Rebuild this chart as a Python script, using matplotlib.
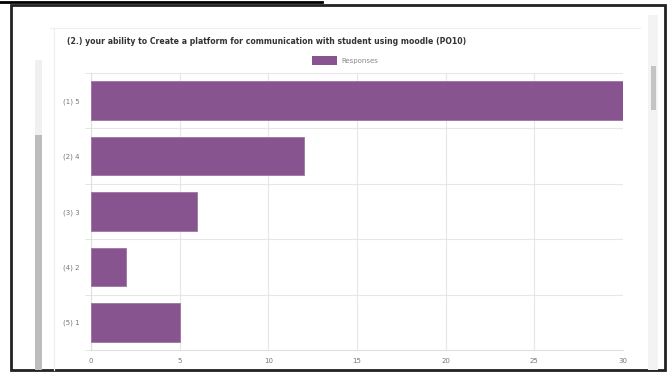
import matplotlib
matplotlib.use("Agg")
import matplotlib.pyplot as plt
from matplotlib.patches import Rectangle
from matplotlib.lines import Line2D

categories = ["(1) 5", "(2) 4", "(3) 3", "(4) 2", "(5) 1"]
responses = [30, 12, 6, 2, 5]
xticks = [0, 5, 10, 15, 20, 25, 30]
title = "(2.) your ability to Create a platform for communication with student using moodle (PO10)"
bar_color = "#87548f"

W, H = 667, 372
fig = plt.figure(figsize=(W / 100, H / 100), dpi=100)
fig.patch.set_facecolor("white")

def fx(x):
    return x / W

def fy(y):
    return 1 - y / H

# screenshot decorations
fig.add_artist(Line2D([fx(0), fx(322)], [fy(2), fy(2)], color="black", lw=2))
fig.add_artist(Rectangle((fx(11), fy(370)), fx(654), (365) / H, fill=False,
                         edgecolor="#222222", lw=2))
fig.add_artist(Rectangle((fx(35), fy(370)), fx(7), 235 / H, color="#bdbdbd", lw=0))
fig.add_artist(Rectangle((fx(35), fy(370)), fx(7), 310 / H, color="#f0f0f0", lw=0, zorder=-1))
fig.add_artist(Rectangle((fx(648), fy(370)), fx(10), 355 / H, color="#f3f3f3", lw=0))
fig.add_artist(Rectangle((fx(651), fy(110)), fx(5), 44 / H, color="#c4c4c4", lw=0))
fig.add_artist(Line2D([fx(50), fx(640)], [fy(28), fy(28)], color="#eeeeee", lw=0.8))
fig.add_artist(Line2D([fx(54), fx(54)], [fy(28), fy(370)], color="#eeeeee", lw=0.8))

ax = fig.add_axes([fx(91), fy(350), fx(623 - 91), (350 - 73) / H])
y = list(range(len(categories)))
ax.barh(y, responses, height=0.7, color=bar_color, edgecolor="#9d74a3", linewidth=0.6, zorder=3)
ax.set_ylim(len(categories) - 0.5, -0.5)
ax.set_xlim(0, 30)
ax.set_xticks(xticks)
ax.set_xticklabels([str(t) for t in xticks])
ax.set_yticks(y)
ax.set_yticklabels(categories)
ax.set_yticks([i + 0.5 for i in range(-1, len(categories))], minor=True)
ax.grid(axis="x", color="#e6e6e6", lw=0.8, zorder=0)
ax.grid(axis="y", which="minor", color="#e6e6e6", lw=0.8, zorder=0)
for s in ["top", "right"]:
    ax.spines[s].set_visible(False)
ax.spines["left"].set_color("#e0e0e0")
ax.spines["bottom"].set_color("#e0e0e0")
ax.tick_params(axis="both", which="major", length=0, labelsize=5, colors="#777777", pad=8)
ax.tick_params(axis="y", which="minor", length=4, color="#e0e0e0")
ax.tick_params(axis="x", pad=6)

fig.text(fx(67), fy(42), title, fontsize=5.6, color="#333333", fontweight="bold",
         va="center", ha="left")
fig.add_artist(Rectangle((fx(312), fy(65)), fx(25), 9 / H, color=bar_color, lw=0))
fig.text(fx(341), fy(60.5), "Responses", fontsize=5, color="#888888", va="center", ha="left")

fig.savefig("out.png", dpi=100)
